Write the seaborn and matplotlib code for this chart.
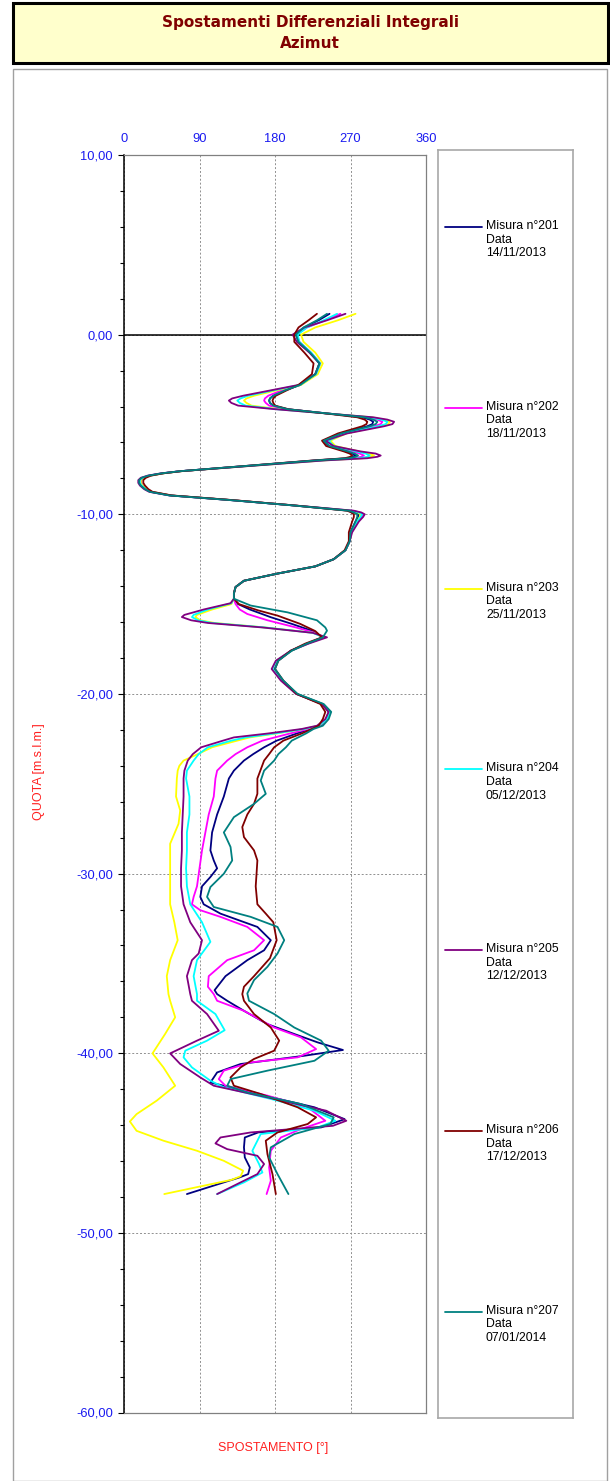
import numpy as np
import pandas as pd
import seaborn as sns
import matplotlib.pyplot as plt
from matplotlib.patches import Rectangle
from matplotlib.ticker import MultipleLocator, FuncFormatter

# depths shared by the upper part of every reading
depth_top = [1.16, 0.8, 0.4, 0.0, -0.4, -1.0, -1.6, -2.2, -2.8, -3.1, -3.4, -3.55, -3.67, -3.8, -3.95,
             -4.15, -4.4, -4.6, -4.73, -4.85, -4.98, -5.1, -5.5, -5.9, -6.2, -6.5, -6.62, -6.73, -6.8,
             -6.88, -7.0, -7.3, -7.6, -7.72, -7.85, -7.97, -8.1, -8.25, -8.4, -8.6, -8.75, -8.95, -9.2,
             -9.5, -9.8, -9.9, -10.0, -10.15, -10.4, -11.0, -11.5, -12.0, -12.5, -12.9, -13.3, -13.7,
             -14.05, -14.4, -14.7]

top_201 = [245, 232, 215, 205, 208, 222, 233, 228, 210, 192, 178, 174, 173, 174, 178, 195, 245, 284, 293, 297, 296, 290, 258, 238, 244, 265, 272, 276, 273, 266, 228, 148, 67, 46, 30, 23, 20, 20, 22, 26, 32, 55, 125, 200, 268, 276, 280, 279, 276, 270, 269, 264, 250, 228, 183, 143, 133, 131, 131]
top_202 = [258, 240, 218, 206, 209, 223, 234, 229, 210, 188, 172, 168, 167, 169, 173, 192, 245, 290, 302, 308, 306, 298, 262, 243, 248, 272, 281, 286, 283, 274, 232, 150, 68, 46, 30, 23, 20, 20, 22, 27, 33, 56, 126, 202, 272, 281, 285, 283, 279, 271, 269, 264, 250, 228, 183, 143, 133, 131, 131]
top_203 = [276, 255, 228, 211, 214, 228, 237, 231, 211, 182, 155, 146, 143, 146, 152, 185, 245, 295, 310, 317, 315, 305, 265, 246, 252, 280, 292, 298, 294, 284, 238, 152, 69, 47, 31, 23, 20, 20, 22, 27, 33, 56, 126, 202, 270, 278, 282, 281, 278, 271, 269, 264, 250, 228, 183, 143, 133, 131, 131]
top_204 = [254, 238, 218, 207, 209, 223, 234, 229, 210, 178, 148, 139, 135, 138, 145, 182, 245, 293, 307, 314, 312, 303, 263, 244, 250, 277, 288, 293, 290, 280, 236, 151, 68, 46, 30, 22, 19, 19, 21, 26, 32, 55, 125, 201, 271, 280, 284, 282, 278, 271, 269, 264, 250, 228, 183, 143, 133, 131, 131]
top_205 = [264, 242, 215, 201, 206, 221, 233, 228, 208, 175, 142, 129, 125, 128, 136, 180, 245, 297, 314, 322, 320, 310, 266, 240, 250, 282, 300, 306, 302, 290, 240, 153, 68, 44, 28, 20, 17, 17, 19, 24, 30, 54, 124, 201, 274, 283, 287, 285, 280, 272, 269, 264, 250, 228, 183, 143, 133, 131, 131]
top_206 = [230, 220, 208, 203, 203, 215, 226, 224, 208, 194, 181, 178, 177, 178, 180, 196, 243, 278, 287, 290, 289, 284, 255, 236, 241, 262, 269, 272, 270, 263, 226, 147, 68, 47, 32, 26, 23, 23, 25, 29, 34, 57, 127, 201, 266, 271, 274, 274, 272, 268, 268, 263, 250, 228, 183, 143, 133, 131, 131]
top_207 = [242, 230, 214, 205, 208, 222, 233, 228, 210, 192, 178, 174, 173, 174, 178, 195, 245, 287, 297, 302, 300, 293, 259, 238, 245, 267, 275, 279, 276, 268, 229, 148, 67, 45, 29, 21, 18, 18, 20, 25, 31, 54, 124, 200, 268, 274, 278, 278, 276, 270, 269, 264, 250, 228, 183, 143, 133, 131, 131]

# lower part, each reading with its own depths
d_201 = [-15.0, -15.3, -15.73, -16.1, -16.5, -16.85, -17.2, -17.59, -18.15, -18.61, -19.26, -20.0, -20.56, -21.0, -21.4, -21.77, -21.95, -22.2, -22.6, -22.97, -23.35, -23.71, -24.27, -24.71, -25.71, -26.71, -27.71, -28.71, -29.27, -29.71, -30.19, -30.71, -31.3, -31.71, -32.23, -32.97, -33.71, -34.27, -34.82, -35.71, -36.49, -36.71, -37.08, -37.64, -38.38, -38.93, -39.4, -39.82, -40.14, -40.6, -41.07, -41.63, -42.27, -43.01, -43.67, -44.13, -44.41, -44.69, -45.24, -45.8, -46.36, -46.73, -46.91, -47.84]
a_201 = [136, 150, 175, 200, 225, 237, 218, 199, 183, 179, 189, 206, 236, 244, 241, 234, 222, 206, 182, 167, 154, 143, 131, 125, 119, 111, 105, 103, 107, 111, 103, 93, 91, 95, 115, 159, 175, 167, 147, 121, 108, 111, 123, 143, 171, 203, 231, 261, 215, 139, 111, 103, 159, 227, 263, 235, 160, 144, 143, 144, 150, 148, 138, 75]

d_202 = [-15.0, -15.3, -15.55, -15.9, -16.3, -16.6, -16.85, -17.2, -17.59, -18.15, -18.61, -19.26, -20.0, -20.56, -21.0, -21.4, -21.77, -21.95, -22.2, -22.6, -22.97, -23.35, -23.71, -24.27, -24.71, -25.71, -26.71, -27.71, -28.71, -29.71, -30.71, -31.3, -31.71, -32.04, -32.41, -32.97, -33.71, -34.27, -34.82, -35.71, -36.3, -36.71, -37.08, -37.64, -38.57, -39.12, -39.77, -40.23, -40.51, -40.97, -41.44, -41.81, -42.36, -43.01, -43.76, -44.22, -44.69, -45.43, -46.36, -47.1, -47.84]
a_202 = [133, 138, 147, 171, 205, 228, 237, 219, 200, 183, 178, 188, 206, 237, 245, 241, 233, 220, 198, 165, 147, 133, 123, 111, 109, 107, 101, 97, 93, 90, 87, 83, 81, 91, 115, 147, 167, 155, 123, 101, 100, 107, 111, 143, 179, 211, 229, 207, 151, 119, 113, 121, 171, 219, 240, 211, 187, 175, 173, 175, 170]

d_203 = [-15.0, -15.3, -15.6, -15.72, -15.9, -16.05, -16.3, -16.6, -16.85, -17.2, -17.59, -18.15, -18.61, -19.26, -20.0, -20.56, -21.0, -21.4, -21.77, -21.95, -22.2, -22.42, -22.6, -22.97, -23.35, -23.71, -24.0, -24.27, -24.71, -25.71, -26.49, -27.23, -28.34, -29.71, -31.71, -32.71, -33.71, -34.82, -35.71, -36.71, -37.08, -38.0, -38.93, -40.01, -40.79, -41.81, -42.64, -43.39, -43.8, -44.32, -44.87, -45.43, -45.99, -46.54, -46.85, -47.05, -47.84]
a_203 = [128, 105, 87, 85, 91, 108, 168, 226, 238, 219, 200, 182, 177, 188, 206, 237, 245, 241, 232, 215, 182, 150, 135, 105, 88, 71, 66, 64, 63, 62, 67, 65, 55, 55, 55, 60, 64, 55, 51, 53, 55, 61, 49, 34, 47, 61, 39, 15, 7, 15, 47, 87, 119, 142, 139, 128, 48]

d_204 = [-14.95, -15.3, -15.6, -15.72, -15.9, -16.05, -16.3, -16.6, -16.85, -17.2, -17.59, -18.15, -18.61, -19.26, -20.0, -20.56, -21.0, -21.4, -21.77, -21.95, -22.2, -22.42, -22.6, -22.97, -23.35, -23.71, -24.27, -24.71, -25.71, -26.71, -27.71, -28.71, -29.71, -30.71, -31.71, -32.71, -33.8, -34.82, -35.71, -36.71, -37.08, -37.82, -38.72, -39.3, -39.86, -40.23, -40.79, -41.53, -41.9, -42.64, -43.2, -43.76, -44.13, -44.5, -45.43, -46.17, -46.64, -47.19, -47.84]
a_204 = [128, 100, 83, 81, 88, 105, 168, 225, 238, 219, 200, 182, 177, 188, 206, 237, 246, 242, 232, 215, 180, 145, 128, 100, 89, 83, 75, 74, 78, 78, 75, 75, 74, 75, 79, 93, 103, 87, 83, 87, 87, 109, 120, 99, 73, 71, 81, 103, 119, 183, 227, 252, 231, 163, 153, 161, 165, 143, 111]

d_205 = [-14.95, -15.3, -15.6, -15.72, -15.9, -16.05, -16.3, -16.6, -16.85, -17.2, -17.59, -18.15, -18.61, -19.26, -20.0, -20.56, -21.0, -21.4, -21.77, -21.95, -22.2, -22.42, -22.6, -22.97, -23.35, -23.71, -24.27, -24.71, -25.71, -26.71, -27.71, -28.71, -29.71, -30.71, -31.71, -32.71, -33.71, -34.45, -34.82, -35.71, -36.71, -37.08, -37.82, -38.75, -39.3, -40.01, -40.6, -41.35, -41.81, -42.46, -43.2, -43.76, -44.04, -44.41, -44.69, -45.02, -45.34, -45.71, -46.17, -46.73, -47.19, -47.84]
a_205 = [127, 95, 72, 69, 80, 100, 165, 225, 242, 220, 199, 181, 176, 187, 205, 236, 244, 240, 230, 212, 172, 131, 118, 92, 82, 76, 72, 71, 71, 70, 69, 69, 68, 68, 71, 79, 93, 89, 81, 75, 79, 81, 99, 113, 87, 55, 67, 91, 107, 171, 241, 265, 249, 151, 115, 109, 123, 159, 167, 159, 139, 111]

d_206 = [-15.0, -15.35, -15.64, -16.1, -16.5, -16.85, -17.2, -17.59, -18.15, -18.61, -19.26, -20.0, -20.56, -21.0, -21.4, -21.77, -21.95, -22.2, -22.6, -22.97, -23.35, -23.71, -24.71, -25.56, -26.12, -26.71, -27.41, -27.97, -28.71, -29.27, -30.01, -30.71, -31.71, -32.23, -32.71, -33.71, -34.71, -35.71, -36.3, -36.71, -37.08, -37.82, -38.57, -39.3, -39.86, -40.32, -40.79, -41.35, -41.81, -42.27, -43.01, -43.57, -43.94, -44.41, -44.87, -45.62, -46.73, -47.84]
a_206 = [137, 160, 183, 210, 228, 236, 216, 199, 184, 180, 190, 206, 234, 240, 237, 232, 224, 212, 190, 179, 173, 167, 159, 159, 155, 147, 141, 143, 155, 159, 158, 157, 159, 169, 178, 182, 174, 155, 143, 141, 143, 155, 175, 185, 179, 155, 139, 127, 131, 163, 207, 229, 219, 183, 169, 171, 177, 181]

d_207 = [-15.08, -15.46, -15.9, -16.3, -16.48, -16.85, -17.2, -17.59, -18.15, -18.61, -19.26, -20.0, -20.56, -21.0, -21.4, -21.77, -21.95, -22.2, -22.6, -22.97, -23.35, -23.71, -24.27, -24.82, -25.56, -26.12, -26.86, -27.71, -28.52, -29.27, -30.01, -30.75, -31.3, -31.86, -32.41, -32.97, -33.71, -34.45, -35.19, -35.93, -36.67, -37.08, -37.82, -38.57, -39.3, -39.86, -40.42, -40.97, -41.44, -41.81, -42.18, -42.83, -43.57, -43.94, -44.5, -45.24, -45.8, -46.73, -47.84]
a_207 = [151, 195, 230, 240, 242, 237, 218, 200, 184, 180, 190, 207, 238, 247, 244, 237, 226, 217, 200, 193, 184, 179, 167, 163, 169, 155, 131, 119, 127, 129, 119, 103, 99, 107, 151, 183, 191, 183, 171, 155, 147, 149, 179, 203, 235, 244, 227, 171, 127, 123, 147, 211, 250, 246, 203, 175, 173, 183, 196]

misure = ["201", "202", "203", "204", "205", "206", "207"]
date = ["14/11/2013", "18/11/2013", "25/11/2013", "05/12/2013", "12/12/2013", "17/12/2013", "07/01/2014"]
colori = ["#000080", "#FF00FF", "#FFFF00", "#00FFFF", "#800080", "#800000", "#008080"]

tops = [top_201, top_202, top_203, top_204, top_205, top_206, top_207]
lows_d = [d_201, d_202, d_203, d_204, d_205, d_206, d_207]
lows_a = [a_201, a_202, a_203, a_204, a_205, a_206, a_207]

rows = []
for m, t, dl, al in zip(misure, tops, lows_d, lows_a):
    for d, a in zip(depth_top + dl, t + al):
        rows.append({"misura": m, "quota": d, "azimut": a})
df = pd.DataFrame(rows)

sns.set_style("white")
plt.rcParams["font.family"] = ["Liberation Sans", "DejaVu Sans"]

W, H = 610, 1481
fig = plt.figure(figsize=(W / 100, H / 100), dpi=100)

# title box
fig.patches.append(Rectangle((13 / W, 1 - 63 / H), 595 / W, 60 / H, transform=fig.transFigure,
                             facecolor="#FFFFCC", edgecolor="black", lw=2.2, zorder=-2))
fig.text(310 / W, 1 - 22 / H, "Spostamenti Differenziali Integrali", ha="center", va="center",
         color="#800000", fontsize=11, fontweight="bold", family="DejaVu Sans")
fig.text(310 / W, 1 - 43 / H, "Azimut", ha="center", va="center",
         color="#800000", fontsize=11, fontweight="bold", family="DejaVu Sans")

# chart frame
fig.patches.append(Rectangle((13 / W, 0.5 / H), 594 / W, (1480 - 68) / H, transform=fig.transFigure,
                             facecolor="white", edgecolor="#A0A0A0", lw=1, zorder=-2))

ax = fig.add_axes([124 / W, 1 - 1412.5 / H, 302 / W, 1257.5 / H])
ax.set_zorder(2)
sns.lineplot(data=df, x="azimut", y="quota", hue="misura", hue_order=misure,
             palette=dict(zip(misure, colori)), sort=False, estimator=None,
             linewidth=1.3, legend=False, ax=ax)

ax.set_xlim(0, 360)
ax.set_ylim(-60, 10)
ax.xaxis.set_major_locator(MultipleLocator(90))
ax.yaxis.set_major_locator(MultipleLocator(10))
ax.yaxis.set_minor_locator(MultipleLocator(2))
ax.yaxis.set_major_formatter(FuncFormatter(lambda v, p: f"{v:.2f}".replace(".", ",")))
ax.xaxis.tick_top()
ax.tick_params(axis="x", length=0, pad=7, labelsize=9.3, labelcolor="#1a1aF0")
ax.tick_params(axis="y", which="major", direction="out", length=4, width=0.8, color="black",
               left=True, labelsize=9.3, labelcolor="#1a1aF0", pad=4)
ax.tick_params(axis="y", which="minor", direction="out", length=3, width=0.8, color="black", left=True)
ax.grid(True, which="major", color="#909090", linestyle=(0, (2, 2)), linewidth=0.7)
ax.axhline(0, color="black", lw=1.1, zorder=1.5)
for s in ["top", "right", "bottom"]:
    ax.spines[s].set_color("#808080")
    ax.spines[s].set_linewidth(0.9)
ax.spines["left"].set_color("black")
ax.spines["left"].set_linewidth(1.1)
ax.set_xlabel("")
ax.set_ylabel("QUOTA [m.s.l.m.]", color="#FF2020", fontsize=9)
ax.yaxis.set_label_coords(-0.262, 0.51)
ax.text(0.495, -0.028, "SPOSTAMENTO [°]", transform=ax.transAxes, ha="center", va="center",
        color="#FF2020", fontsize=9)

# legend box
lx0, lx1, ly0, ly1 = 438, 573, 150, 1418
lax = fig.add_axes([lx0 / W, 1 - ly1 / H, (lx1 - lx0) / W, (ly1 - ly0) / H])
lax.set_zorder(2)
lax.set_xlim(lx0, lx1)
lax.set_ylim(ly1, ly0)
lax.set_xticks([])
lax.set_yticks([])
for s in lax.spines.values():
    s.set_color("#A8A8A8")
    s.set_linewidth(1.2)
for i, (m, dt, c) in enumerate(zip(misure, date, colori)):
    y = 227 + i * 180.8
    lax.plot([445, 482], [y, y], color=c, lw=1.3)
    lax.text(486, y - 7, f"Misura n°{m}\nData\n{dt}", ha="left", va="top",
             fontsize=8.8, linespacing=1.18, color="black")

fig.savefig("out.png", dpi=100)
